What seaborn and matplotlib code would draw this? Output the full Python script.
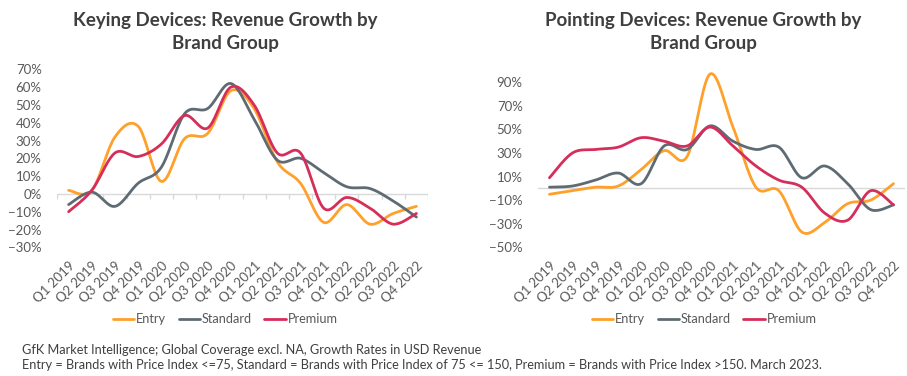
import numpy as np
import pandas as pd
import matplotlib
matplotlib.use("Agg")
import matplotlib.pyplot as plt
import seaborn as sns
from matplotlib.ticker import PercentFormatter
from matplotlib.lines import Line2D

# 분기 라벨
quarters = ["Q1 2019", "Q2 2019", "Q3 2019", "Q4 2019",
            "Q1 2020", "Q2 2020", "Q3 2020", "Q4 2020",
            "Q1 2021", "Q2 2021", "Q3 2021", "Q4 2021",
            "Q1 2022", "Q2 2022", "Q3 2022", "Q4 2022"]

# Keying Devices 성장률 (%)
keying_entry = [2, 2, 32, 38, 7, 31, 34, 58, 48, 18, 6, -16, -6, -17, -11, -7]
keying_standard = [-6, 1, -7, 6, 15, 45, 48, 62, 42, 19, 20, 12, 4, 3, -4, -13]
keying_premium = [-10, 2, 23, 21, 28, 44, 37, 60, 50, 23, 23, -8, -2, -8, -17, -11]

# Pointing Devices 성장률 (%)
pointing_entry = [-5, -2, 1, 2, 16, 32, 27, 97, 52, 1, -2, -37, -29, -13, -10, 4]
pointing_standard = [1, 2, 7, 13, 4, 36, 33, 53, 40, 33, 35, 9, 19, 4, -18, -14]
pointing_premium = [9, 30, 33, 35, 43, 40, 36, 52, 36, 19, 7, 1, -21, -27, -2, -14]

groups = ["Entry", "Standard", "Premium"]
colors = {"Entry": "#FFA02A", "Standard": "#5F6B73", "Premium": "#D62E5A"}

sns.set_style("white")
plt.rcParams['font.family'] = ['Lato', 'DejaVu Sans']


def smooth(y, n=20):
    # Excel 스타일 부드러운 선 (Catmull-Rom)
    y = np.asarray(y, dtype=float) / 100
    x = np.arange(len(y), dtype=float)
    px = np.concatenate([[x[0]], x, [x[-1]]])
    py = np.concatenate([[y[0]], y, [y[-1]]])
    xs, ys = [], []
    for i in range(1, len(px) - 2):
        t = np.linspace(0, 1, n, endpoint=False)
        for arr, out in ((px, xs), (py, ys)):
            p0, p1, p2, p3 = arr[i - 1], arr[i], arr[i + 1], arr[i + 2]
            out.append(0.5 * (2 * p1 + (-p0 + p2) * t
                              + (2 * p0 - 5 * p1 + 4 * p2 - p3) * t ** 2
                              + (-p0 + 3 * p1 - 3 * p2 + p3) * t ** 3))
    xs.append([x[-1]])
    ys.append([y[-1]])
    return np.concatenate(xs), np.concatenate(ys)


def make_df(series):
    rows = []
    for name, vals in zip(groups, series):
        sx, sy = smooth(vals)
        rows.append(pd.DataFrame({"x": sx, "y": sy, "group": name}))
    return pd.concat(rows, ignore_index=True)


fig = plt.figure(figsize=(9.07, 3.76), dpi=100)
W, H = 907, 376

ax1 = fig.add_axes([57 / W, 1 - 247.3 / H, (428 - 57) / W, (247.3 - 69.3) / H])
ax2 = fig.add_axes([538 / W, 1 - 247.3 / H, (905 - 538) / W, (247.3 - 70.5) / H])

panels = [
    (ax1, [keying_entry, keying_standard, keying_premium], (-0.3, 0.7), np.arange(-0.3, 0.71, 0.1), True),
    (ax2, [pointing_entry, pointing_standard, pointing_premium], (-0.5, 1.0), np.arange(-0.5, 0.91, 0.2), False),
]

for ax, series, ylim, yticks, boundary_ticks in panels:
    df = make_df(series)
    ax.axhline(0, color="#D9D9D9", lw=1, zorder=1)
    if boundary_ticks:
        ax.vlines(np.arange(-0.5, 15.6, 1), -0.03, 0, color="#D9D9D9", lw=1, zorder=1)
    sns.lineplot(data=df, x="x", y="y", hue="group", palette=colors, sort=False,
                 estimator=None, lw=2, ax=ax, legend=False, zorder=3)
    ax.set_xlim(-0.5, 15.5)
    ax.set_ylim(*ylim)
    ax.set_yticks(yticks)
    ax.yaxis.set_major_formatter(PercentFormatter(1.0, decimals=0))
    ax.set_xticks(range(len(quarters)))
    ax.set_xticklabels(quarters, rotation=45, ha="right", rotation_mode="anchor")
    ax.tick_params(axis="both", length=0, labelsize=9.5, colors="#595959")
    ax.tick_params(axis="y", pad=11)
    ax.tick_params(axis="x", pad=9)
    ax.set_xlabel("")
    ax.set_ylabel("")
    for s in ax.spines.values():
        s.set_visible(False)
    ax.grid(False)

title_kw = dict(ha="center", va="top", fontsize=13.5, fontweight="bold",
                color="#3F3F3F", linespacing=1.45)
fig.text(225 / W, 1 - 12 / H, "Keying Devices: Revenue Growth by\nBrand Group", **title_kw)
fig.text(703 / W, 1 - 12 / H, "Pointing Devices: Revenue Growth by\nBrand Group", **title_kw)

handles = [Line2D([0], [0], color=colors[g], lw=2) for g in groups]
for cx in (225, 704):
    fig.legend(handles, groups, loc="center", bbox_to_anchor=(cx / W, 1 - 319 / H),
               ncol=3, frameon=False, fontsize=9.2, handlelength=1.7,
               handletextpad=0.1, columnspacing=1.0, labelcolor="#595959")

foot_kw = dict(ha="left", va="center", fontsize=9.2, color="#404040")
fig.text(22 / W, 1 - 350 / H,
         "GfK Market Intelligence; Global Coverage excl. NA, Growth Rates in USD Revenue", **foot_kw)
fig.text(22 / W, 1 - 365 / H,
         "Entry = Brands with Price Index <=75, Standard = Brands with Price Index of 75 <= 150, "
         "Premium = Brands with Price Index >150. March 2023.", **foot_kw)

fig.savefig("out.png", dpi=100)
